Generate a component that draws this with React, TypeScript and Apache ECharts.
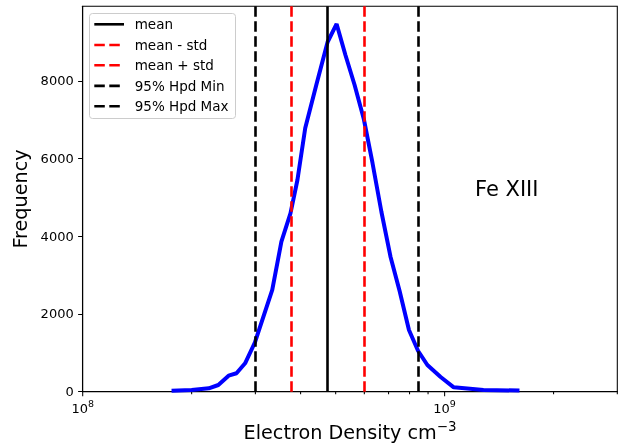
import React, { useEffect, useRef } from 'react';
import * as echarts from 'echarts';

// Histogram curve (bin centre -> count)
const densityValues = [
  1.76e8, 2.0e8, 2.23e8, 2.37e8, 2.53e8, 2.66e8, 2.81e8, 2.99e8, 3.34e8, 3.54e8,
  3.75e8, 3.92e8, 4.12e8, 4.42e8, 4.75e8, 5.03e8, 5.32e8, 5.64e8, 5.98e8, 6.32e8,
  6.69e8, 7.09e8, 7.51e8, 7.97e8, 8.45e8, 8.96e8, 9.75e8, 1.06e9, 1.28e9, 1.61e9,
];
const frequencyValues = [
  26, 44, 88, 172, 412, 474, 731, 1266, 2618, 3861,
  4592, 5449, 6788, 7894, 9001, 9465, 8667, 7894, 7019, 5887,
  4625, 3467, 2592, 1588, 1048, 687, 378, 113, 44, 30,
];

// Statistic lines
const statNames = ['mean', 'mean - std', 'mean + std', '95% Hpd Min', '95% Hpd Max'];
const statValues = [4.75e8, 3.77e8, 5.98e8, 2.99e8, 8.46e8];
const statColors = ['#000000', '#ff0000', '#ff0000', '#000000', '#000000'];
const statDashed = [false, true, true, true, true];

const yTicks = [0, 2000, 4000, 6000, 8000];
const xMajorTicks = [1e8, 1e9];
const xMinorTicks = [2e8, 3e8, 4e8, 5e8, 6e8, 7e8, 8e8, 9e8, 2e9, 3e9];
const xMin = 1e8;
const xMax = 3e9;
const yMax = 9920;
const annotation = 'Fe XIII';

const FONT = 'DejaVu Sans';
const DASH = [10.5, 4.5];

export default function App() {
  const ref = useRef<HTMLDivElement>(null);
  useEffect(() => {
    const chart = echarts.init(ref.current!, null, { renderer: 'svg' });
    chart.setOption({
      animation: false,
      grid: {
        left: 82.7, right: 13.7, top: 6.3, bottom: 55.3,
        containLabel: false, outerBoundsMode: 'none',
        show: true, borderColor: '#000', borderWidth: 1.05, backgroundColor: 'transparent',
      },
      xAxis: {
        type: 'log', logBase: 10, min: xMin, max: xMax,
        name: '{b|Electron Density cm}{sup|\u22123}',
        nameLocation: 'middle', nameGap: 28.5,
        nameTextStyle: {
          fontFamily: FONT, fontSize: 19.2, color: '#000',
          rich: {
            b: { fontFamily: FONT, fontSize: 19.2, color: '#000', lineHeight: 21.5, verticalAlign: 'bottom' },
            sup: { fontFamily: FONT, fontSize: 13.4, color: '#000', lineHeight: 14, verticalAlign: 'top' },
          },
        },
        axisLine: { show: true, lineStyle: { color: '#000', width: 1.05 } },
        axisTick: { show: false },
        splitLine: { show: false },
        axisLabel: {
          margin: 7,
          formatter: (v: number) => {
            const e = Math.log10(v);
            if (Math.abs(e - Math.round(e)) > 1e-6) return '';
            return '{b|10}{s|' + Math.round(e) + '}';
          },
          rich: {
            b: { fontFamily: FONT, fontSize: 13, color: '#000', lineHeight: 16, verticalAlign: 'bottom' },
            s: { fontFamily: FONT, fontSize: 9.5, color: '#000', lineHeight: 10, verticalAlign: 'top' },
          },
        },
      },
      yAxis: {
        type: 'value', min: 0, max: yMax, interval: 2000,
        name: 'Frequency', nameLocation: 'middle', nameGap: 52,
        nameTextStyle: { fontFamily: FONT, fontSize: 19.2, color: '#000' },
        axisLine: { show: true, lineStyle: { color: '#000', width: 1.05 } },
        axisTick: { show: true, length: 4.6, customValues: yTicks, lineStyle: { color: '#000', width: 1.05 } },
        axisLabel: {
          customValues: yTicks, margin: 9, fontFamily: FONT, fontSize: 13, color: '#000',
          formatter: (v: number) => String(v),
        },
        splitLine: { show: false },
      },
      series: [
        {
          type: 'line',
          data: densityValues.map((d, i) => [d, frequencyValues[i]]),
          showSymbol: false,
          symbol: 'none',
          lineStyle: { color: '#0000ff', width: 4 },
          z: 2,
          silent: true,
        },
        {
          type: 'line',
          data: [],
          z: 3,
          silent: true,
          markLine: {
            silent: true,
            symbol: ['none', 'none'],
            label: { show: false },
            emphasis: { disabled: true },
            data: statValues.map((v, i) => ({
              xAxis: v,
              lineStyle: { color: statColors[i], width: 2.6, type: statDashed[i] ? DASH : 'solid' },
            })),
          },
        },
      ],
    });

    const y0 = chart.convertToPixel({ yAxisIndex: 0 }, 0) as number;
    const ticks: any[] = [];
    const addTick = (v: number, len: number) => {
      const x = chart.convertToPixel({ xAxisIndex: 0 }, v) as number;
      ticks.push({
        type: 'line', silent: true,
        shape: { x1: x, y1: y0, x2: x, y2: y0 + len },
        style: { stroke: '#000', lineWidth: 1.05 },
      });
    };
    xMajorTicks.forEach((v) => addTick(v, 4.6));
    xMinorTicks.forEach((v) => addTick(v, 2.6));

    const rowY = [24.3, 45, 65.3, 85.9, 106.2];
    const legendChildren: any[] = [
      {
        type: 'rect', shape: { x: 89.5, y: 13.5, width: 146, height: 105, r: 3 },
        style: { fill: 'rgba(255,255,255,0.8)', stroke: '#cccccc', lineWidth: 1 },
      },
    ];
    statNames.forEach((n, i) => {
      legendChildren.push({
        type: 'line',
        shape: { x1: 94.3, y1: rowY[i], x2: 124, y2: rowY[i] },
        style: { stroke: statColors[i], lineWidth: 2.6, lineDash: statDashed[i] ? DASH : null },
      });
      legendChildren.push({
        type: 'text', x: 134.7, y: rowY[i],
        style: { text: n, fontFamily: FONT, fontSize: 13.5, fill: '#000', verticalAlign: 'middle', align: 'left' },
      });
    });

    chart.setOption({
      graphic: [
        ...ticks,
        { type: 'group', silent: true, z: 100, children: legendChildren },
        {
          type: 'text', x: 475, y: 189, silent: true,
          style: { text: annotation, fontFamily: FONT, fontSize: 21, fill: '#000', verticalAlign: 'middle', align: 'left' },
        },
      ],
    });

    return () => chart.dispose();
  }, []);
  return <div ref={ref} style={{ position: 'fixed', left: 0, top: 0, width: 631, height: 447 }} />;
}
